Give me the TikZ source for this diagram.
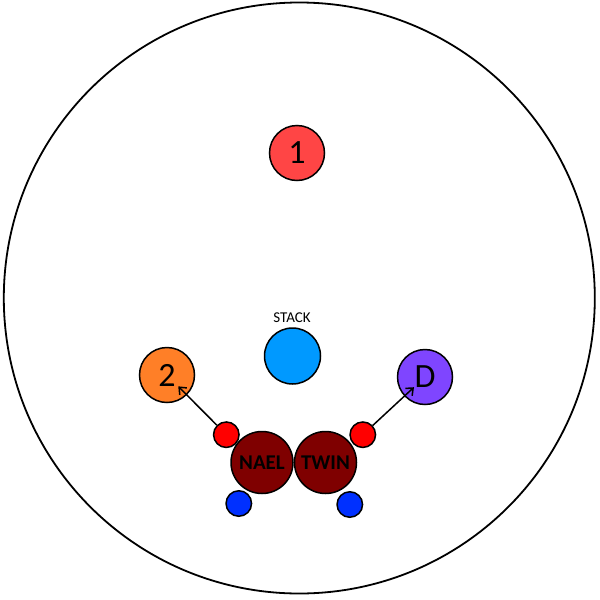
\documentclass[tikz,border=0pt]{standalone}
\usepackage{fontspec}
\setmainfont{Carlito}
\usetikzlibrary{arrows.meta}
\definecolor{mkone}{HTML}{FF4545}
\definecolor{mktwo}{HTML}{FF7F27}
\definecolor{mkd}{HTML}{7F45FF}
\definecolor{stack}{HTML}{0099FF}
\definecolor{maroon}{HTML}{7F0000}
\definecolor{dotred}{HTML}{FF0000}
\definecolor{dotblue}{HTML}{0030FF}

\begin{document}
\begin{tikzpicture}[x=1pt,y=-1pt,node distance=63.5pt,>={Straight Barb[length=6pt,width=10pt]}]
        \tikzstyle{marker}=[circle,draw,line width=1.5pt,minimum size=55pt,inner sep=0pt,font=\fontsize{34}{34}\selectfont]
        \tikzstyle{player}=[circle,draw,line width=1.5pt,fill=maroon,minimum size=62pt,inner sep=0pt,font=\fontsize{21}{21}\selectfont\bfseries]
        \tikzstyle{dot}=[circle,draw,line width=1.5pt,minimum size=25.5pt,inner sep=0pt]

        \useasboundingbox (0,0) rectangle (600,600);
        \draw[line width=1.8pt] (299.3,298) circle (295.5); % arena

        \node[marker,fill=mkone]  (P01) at (297,153)    {1};
        \node[marker,fill=mktwo]  (P02) at (167,375)    {2};
        \node[marker,fill=mkd]    (PD)  at (425,377)    {D};
        \node[marker,fill=stack,minimum size=56pt] (STK) at (292.5,356) { };
        \node[font=\fontsize{15}{15}\selectfont] (STKL) at (292,318) {STACK};
        \node[player]  (NAEL) at (262,462.5)            {NAEL};
        \node[player]  (TWIN) [right of=NAEL]           {TWIN};
        \node[dot,fill=dotred]   (R01) at (226.3,434.7) { };
        \node[dot,fill=dotred]   (R02) at (362.8,434.7) { };
        \node[dot,fill=dotblue]  (B01) at (238.8,503.5) { };
        \node[dot,fill=dotblue]  (B02) at (349.8,504.5) { };

        \path[->,line width=1.5pt]
                  (R01) edge [shorten >=16pt] (P02.center)
                  (R02) edge [shorten >=15pt] (PD.center);
\end{tikzpicture}
\end{document}
